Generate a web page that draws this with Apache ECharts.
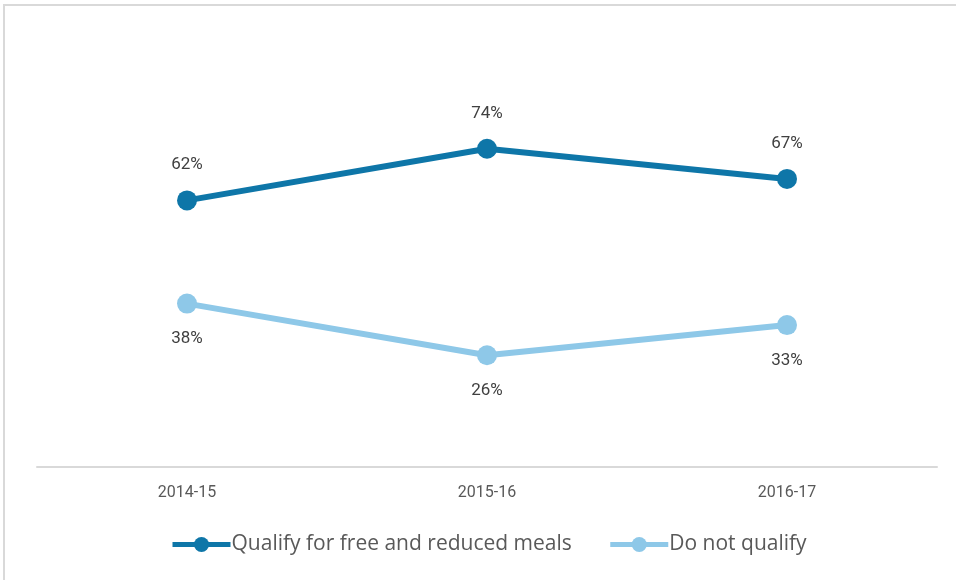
<!DOCTYPE html>
<html><head><meta charset="utf-8">
<script src="https://cdn.jsdelivr.net/npm/echarts@6/dist/echarts.min.js"></script>
<style>html,body{margin:0;padding:0;background:#fff}#c{width:956px;height:580px}</style>
</head><body><div id="c"></div>
<script>
var categories = ['2014-15', '2015-16', '2016-17'];
var qualifyValues = [62, 74, 67];
var notQualifyValues = [38, 26, 33];
var seriesNames = ['Qualify for free and reduced meals', 'Do not qualify'];

var chart = echarts.init(document.getElementById('c'));
var dark = '#0E76A8', light = '#8EC8E8';
chart.setOption({
  animation: false,
  graphic: [{type:'rect', shape:{x:4,y:5,width:1000,height:700}, style:{fill:'none', stroke:'#d9d9d9', lineWidth:2}, silent:true}],
  grid: {left: 37, right: 19, top: 37, bottom: 113},
  xAxis: {type:'category', data: categories, boundaryGap: true,
    axisLine:{lineStyle:{color:'#d9d9d9', width:2}}, axisTick:{show:false},
    axisLabel:{color:'#595959', fontFamily:'Roboto', fontSize:16, margin:18}},
  yAxis: {type:'value', min:0, max:100, show:false},
  legend: {top: 534, left: 170, padding: 0, itemWidth:58, itemHeight:19, itemGap:36,
    lineStyle:{width:5},
    textStyle:{color:'#595959', fontFamily:'Open Sans', fontSize:21, padding:[0,0,0,-4]},
    data: seriesNames},
  series: [
    {name: seriesNames[0], type:'line', data: qualifyValues, symbol:'circle', symbolSize:20,
     lineStyle:{color:dark, width:6}, itemStyle:{color:dark},
     label:{show:true, position:'top', distance:17, formatter:'{c}%', color:'#404040', fontFamily:'Roboto', fontSize:17}},
    {name: seriesNames[1], type:'line', data: notQualifyValues, symbol:'circle', symbolSize:20,
     lineStyle:{color:light, width:6}, itemStyle:{color:light},
     label:{show:true, position:'bottom', distance:17, formatter:'{c}%', color:'#404040', fontFamily:'Roboto', fontSize:17}}
  ]
});
</script></body></html>
